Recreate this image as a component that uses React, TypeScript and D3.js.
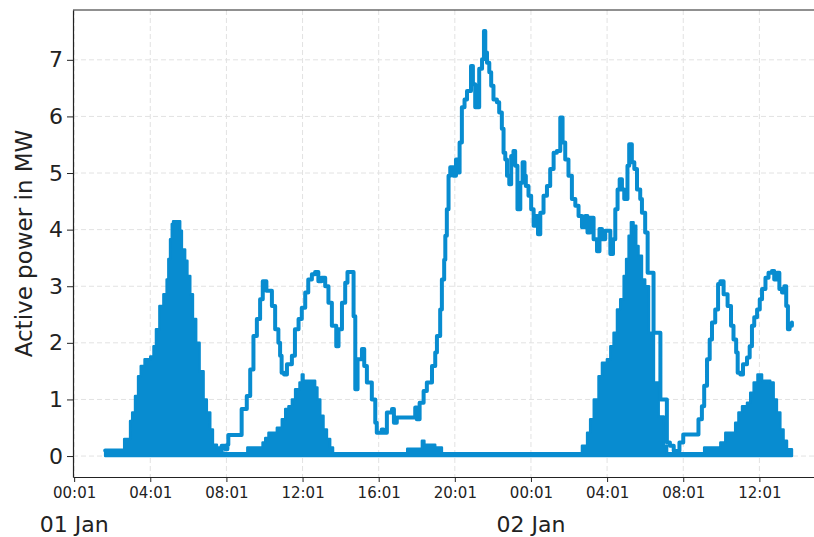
import * as d3 from 'd3';
import { useEffect, useRef } from 'react';

const WIDTH = 814;
const HEIGHT = 537;
const PLOT = { left: 73, right: 826, top: 10, bottom: 477 };
const BLUE = '#088cd0';
const FONT = '"DejaVu Sans", sans-serif';

// hours counted from 01 Jan 00:01
const START = new Date(2020, 0, 1, 0, 1);
const toDate = (h: number) => new Date(START.getTime() + h * 3600e3);

const Y_LABEL = 'Active power in MW';
const Y_TICKS = [0, 1, 2, 3, 4, 5, 6, 7];
const X_TICK_HOURS = [0, 4, 8, 12, 16, 20, 24, 28, 32, 36];
const DAY_LABELS = ['01 Jan', '02 Jan'];
const DAY_HOURS = [0, 24];

// load line: [hour, MW]
const LOAD: [number, number][] = [
    [1.63, 0.1], [7.6, 0.1], [7.75, 0.18], [7.95, 0.12], [8.05, 0.2], [8.1, 0.37], [8.65, 0.37],
    [8.8, 0.83], [9.07, 1.06], [9.25, 1.53], [9.42, 2.12], [9.6, 2.42], [9.77, 2.77], [9.91, 3.09],
    [10.1, 2.92], [10.39, 2.65], [10.56, 2.24], [10.73, 2.0], [10.82, 1.77], [10.9, 1.47], [11.03, 1.44],
    [11.18, 1.62], [11.44, 1.77], [11.6, 2.24], [11.79, 2.42], [11.96, 2.62], [12.14, 2.89], [12.3, 3.12],
    [12.49, 3.21], [12.66, 3.25], [12.83, 3.09], [13.0, 3.15], [13.19, 3.0], [13.36, 2.71], [13.54, 2.3],
    [13.77, 1.94], [13.89, 2.24], [14.07, 2.71], [14.24, 3.06], [14.36, 3.25], [14.56, 3.25], [14.68, 2.47],
    [14.77, 1.18], [14.89, 1.71], [15.12, 1.89], [15.24, 1.59], [15.38, 1.3], [15.64, 1.0], [15.82, 0.59],
    [15.9, 0.41], [16.16, 0.47], [16.25, 0.41], [16.43, 0.77], [16.7, 0.83], [16.8, 0.59], [16.95, 0.68],
    [17.83, 0.68], [17.92, 0.86], [18.0, 0.65], [18.15, 0.94], [18.36, 1.15], [18.53, 1.3], [18.8, 1.59],
    [18.97, 1.83], [19.06, 2.12], [19.23, 2.59], [19.32, 3.12], [19.44, 3.47], [19.5, 3.89], [19.58, 4.36],
    [19.67, 4.95], [19.76, 5.1], [19.93, 4.95], [20.06, 5.24], [20.16, 5.01], [20.25, 5.54], [20.37, 6.16],
    [20.51, 6.3], [20.64, 6.45], [20.76, 6.45], [20.85, 6.89], [20.95, 6.57], [21.07, 6.16], [21.16, 6.16],
    [21.28, 6.84], [21.43, 7.01], [21.53, 7.51], [21.6, 7.13], [21.69, 6.95], [21.81, 6.78], [21.91, 6.54],
    [22.03, 6.3], [22.21, 6.25], [22.33, 6.07], [22.47, 5.78], [22.56, 5.36], [22.65, 5.24], [22.74, 4.95],
    [22.86, 4.8], [22.96, 5.3], [23.08, 5.39], [23.17, 5.13], [23.29, 4.36], [23.44, 4.83], [23.56, 5.19],
    [23.66, 4.95], [23.73, 4.77], [23.87, 4.6], [24.01, 4.36], [24.14, 4.07], [24.26, 4.24], [24.37, 3.92],
    [24.49, 4.3], [24.66, 4.6], [24.84, 4.77], [25.01, 5.07], [25.19, 5.36], [25.36, 5.39], [25.54, 5.98],
    [25.66, 5.54], [25.8, 5.24], [25.97, 4.95], [26.15, 4.54], [26.33, 4.42], [26.5, 4.24], [26.68, 4.04],
    [26.85, 4.24], [26.97, 3.95], [27.11, 4.21], [27.29, 3.83], [27.47, 3.62], [27.6, 4.01], [27.73, 3.83],
    [27.9, 3.98], [28.05, 3.98], [28.17, 3.57], [28.31, 3.83], [28.43, 4.36], [28.55, 4.71], [28.66, 4.89],
    [28.78, 4.71], [28.9, 4.54], [29.07, 5.13], [29.16, 5.51], [29.3, 5.19], [29.43, 5.07], [29.57, 4.71],
    [29.74, 4.54], [29.83, 4.3], [30.0, 3.95], [30.13, 3.24], [30.44, 2.18], [30.8, 1.0], [31.14, 0.24],
    [31.3, 0.18], [31.5, 0.09], [31.8, 0.24], [32.0, 0.38], [32.63, 0.38], [32.8, 0.65], [32.98, 0.88],
    [33.1, 1.24], [33.25, 1.71], [33.39, 2.06], [33.51, 2.36], [33.68, 2.59], [33.83, 3.04], [33.95, 3.09],
    [34.12, 2.86], [34.33, 2.65], [34.51, 2.3], [34.64, 2.06], [34.78, 1.83], [34.86, 1.47], [35.0, 1.44],
    [35.14, 1.62], [35.35, 1.74], [35.49, 1.94], [35.61, 2.3], [35.73, 2.45], [35.88, 2.59], [36.02, 2.77],
    [36.14, 2.95], [36.32, 3.15], [36.48, 3.24], [36.66, 3.27], [36.78, 3.12], [36.92, 3.24], [37.05, 2.95],
    [37.19, 2.89], [37.31, 3.0], [37.41, 2.65], [37.5, 2.24], [37.59, 2.3], [37.71, 2.36],
];

// generation (filled): [hour, MW]
const GEN: [number, number][] = [
    [1.63, 0.09], [2.6, 0.09], [2.63, 0.3], [2.94, 0.62], [3.05, 0.77], [3.2, 1.06], [3.36, 1.41],
    [3.5, 1.59], [3.7, 1.71], [4.0, 1.76], [4.17, 1.94], [4.3, 2.24], [4.48, 2.65], [4.69, 2.86],
    [4.86, 3.12], [4.95, 3.48], [5.04, 3.83], [5.13, 4.1], [5.2, 4.15], [5.48, 4.15], [5.57, 3.98],
    [5.66, 3.65], [5.83, 3.45], [5.95, 3.18], [6.1, 2.86], [6.24, 2.42], [6.41, 2.0], [6.59, 1.5],
    [6.8, 1.0], [6.97, 0.77], [7.15, 0.47], [7.29, 0.2], [7.5, 0.15], [7.76, 0.06], [7.9, 0.05],
    [9.07, 0.05], [9.1, 0.15], [9.86, 0.15], [9.9, 0.24], [10.04, 0.32], [10.21, 0.41], [10.65, 0.5],
    [10.91, 0.65], [11.09, 0.83], [11.26, 0.88], [11.44, 1.0], [11.61, 1.18], [11.84, 1.3], [11.96, 1.44],
    [12.05, 1.33], [12.4, 1.33], [12.66, 1.21], [12.78, 1.0], [12.93, 0.71], [13.1, 0.47], [13.28, 0.3],
    [13.45, 0.15], [13.6, 0.05], [17.48, 0.05], [17.5, 0.13], [18.2, 0.13], [18.27, 0.27], [18.4, 0.2],
    [18.97, 0.15], [19.32, 0.05], [26.6, 0.05], [26.68, 0.18], [26.95, 0.41], [27.11, 0.65], [27.3, 1.0],
    [27.55, 1.41], [27.73, 1.65], [27.99, 1.71], [28.17, 1.94], [28.34, 2.18], [28.52, 2.59], [28.69, 2.77],
    [28.87, 3.18], [29.0, 3.48], [29.13, 3.89], [29.25, 4.13], [29.39, 4.07], [29.53, 3.71], [29.65, 3.54],
    [29.83, 3.12], [30.0, 3.0], [30.2, 2.18], [30.46, 1.3], [30.71, 0.7], [30.98, 0.18], [31.15, 0.05],
    [33.06, 0.05], [33.1, 0.15], [33.95, 0.24], [34.21, 0.41], [34.6, 0.41], [34.73, 0.59], [34.9, 0.77],
    [35.09, 0.88], [35.35, 0.94], [35.52, 1.12], [35.7, 1.3], [35.9, 1.44], [36.14, 1.33], [36.57, 1.3],
    [36.75, 1.0], [36.92, 0.77], [37.1, 0.47], [37.27, 0.27], [37.45, 0.12], [37.71, 0.05],
];

const App = () => {
    const svgRef = useRef<SVGSVGElement>(null);

    useEffect(() => {
        if (!svgRef.current) return;
        const svg = d3.select(svgRef.current);
        svg.selectAll('*').remove();

        const x = d3.scaleTime().domain([toDate(-0.06), toDate(39.5)]).range([PLOT.left, PLOT.right]);
        const y = d3.scaleLinear().domain([-0.37, 7.88]).range([PLOT.bottom, PLOT.top]);
        const xTicks = X_TICK_HOURS.map(toDate);

        // grid
        const grid = svg.append('g').attr('stroke', '#e2e2e2').attr('stroke-width', 1).attr('stroke-dasharray', '5,3');
        grid.selectAll('.gx')
            .data(xTicks)
            .enter()
            .append('line')
            .attr('x1', (d) => x(d))
            .attr('x2', (d) => x(d))
            .attr('y1', PLOT.top)
            .attr('y2', PLOT.bottom);
        grid.selectAll('.gy')
            .data(Y_TICKS)
            .enter()
            .append('line')
            .attr('x1', PLOT.left)
            .attr('x2', PLOT.right)
            .attr('y1', (d) => y(d))
            .attr('y2', (d) => y(d));

        // filled series (drawn as area + stroke)
        const area = d3
            .area<[number, number]>()
            .curve(d3.curveStepAfter)
            .x((d) => x(toDate(d[0])))
            .y0(y(0))
            .y1((d) => y(d[1]));
        svg.append('path')
            .attr('d', area(GEN))
            .attr('fill', BLUE)
            .attr('stroke', BLUE)
            .attr('stroke-width', 2.5)
            .attr('stroke-linejoin', 'round');

        const line = d3
            .line<[number, number]>()
            .curve(d3.curveStepAfter)
            .x((d) => x(toDate(d[0])))
            .y((d) => y(d[1]));
        svg.append('path')
            .attr('d', line(LOAD))
            .attr('fill', 'none')
            .attr('stroke', BLUE)
            .attr('stroke-width', 4)
            .attr('stroke-linejoin', 'round')
            .attr('stroke-linecap', 'round');

        // axes
        const yAxis = svg
            .append('g')
            .attr('transform', `translate(${PLOT.left},0)`)
            .call(d3.axisLeft(y).tickValues(Y_TICKS).tickSize(6).tickSizeOuter(0).tickPadding(4));
        yAxis.selectAll('text').attr('font-size', 22).attr('font-family', FONT).attr('fill', '#222');

        const xAxis = svg
            .append('g')
            .attr('transform', `translate(0,${PLOT.bottom})`)
            .call(
                d3
                    .axisBottom(x)
                    .tickValues(xTicks)
                    .tickSize(5)
                    .tickSizeOuter(0)
                    .tickPadding(5)
                    .tickFormat((d) => d3.timeFormat('%H:%M')(d as Date))
            );
        xAxis.selectAll('text').attr('font-size', 15).attr('font-family', FONT).attr('fill', '#222');
        svg.selectAll('.domain').attr('stroke', '#222').attr('stroke-width', 1.2);
        svg.selectAll('.tick line').attr('stroke', '#222');

        svg.append('line')
            .attr('x1', PLOT.left)
            .attr('x2', PLOT.right)
            .attr('y1', PLOT.top)
            .attr('y2', PLOT.top)
            .attr('stroke', '#222')
            .attr('stroke-width', 1.2);

        // day labels
        svg.selectAll('.day')
            .data(DAY_LABELS)
            .enter()
            .append('text')
            .attr('x', (_d, i) => x(toDate(DAY_HOURS[i])))
            .attr('y', 532)
            .attr('text-anchor', 'middle')
            .attr('font-size', 22)
            .attr('font-family', FONT)
            .attr('fill', '#222')
            .text((d) => d);

        svg.append('text')
            .attr('transform', `translate(32,${(PLOT.top + PLOT.bottom) / 2}) rotate(-90)`)
            .attr('text-anchor', 'middle')
            .attr('font-size', 23)
            .attr('font-family', FONT)
            .attr('fill', '#222')
            .text(Y_LABEL);
    }, []);

    return (
        <svg
            ref={svgRef}
            width={WIDTH}
            height={HEIGHT}
            style={{ position: 'absolute', left: 0, top: 0, background: '#fff' }}
        ></svg>
    );
};

export default App;
